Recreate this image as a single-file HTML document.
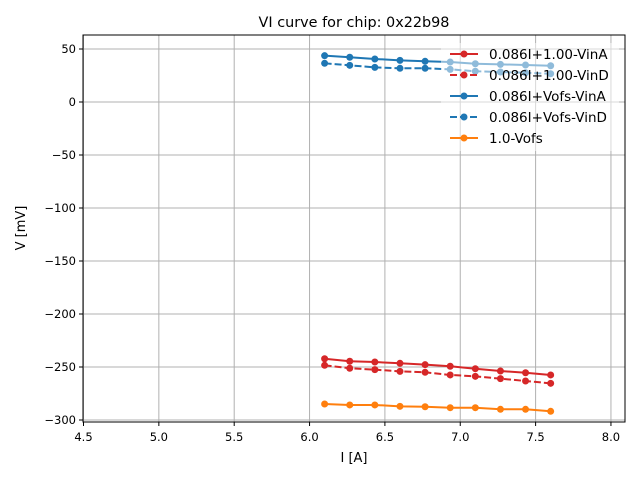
<!DOCTYPE html>
<html><head><meta charset="utf-8"><style>
body{margin:0;background:#fff}
svg{display:block;font-family:"DejaVu Sans","Liberation Sans",sans-serif}
</style></head><body>
<svg id="chart" width="640" height="480" xmlns="http://www.w3.org/2000/svg">
<rect width="640" height="480" fill="#fff"/>
<text x="354" y="27" text-anchor="middle" font-size="14.4">VI curve for chip: 0x22b98</text>
<g id="grid"></g><g id="ticks"></g><g id="series"></g>
<rect x="83" y="35" width="542" height="387" fill="none" stroke="#000" stroke-width="1"/>
<text x="354" y="462" text-anchor="middle" font-size="13">I [A]</text>
<text transform="translate(25,228) rotate(-90)" text-anchor="middle" font-size="13">V [mV]</text>
<g id="legend"></g>
</svg>
<script>
const currents=[6.1,6.2667,6.4333,6.6,6.7667,6.9333,7.1,7.2667,7.4333,7.6];
const redA=[-242.2,-244.6,-245.3,-246.5,-247.8,-249.3,-251.6,-253.8,-255.4,-257.5];
const redD=[-248.4,-251.2,-252.5,-254.1,-255,-257.5,-258.8,-261,-263.2,-265.4];
const blueA=[43.7,42.2,40.6,39.3,38.4,37.7,36.1,35.5,34.9,34.2];
const blueD=[36.5,34.6,32.7,31.8,31.8,30.8,29,28.3,27.6,26.7];
const orange=[-284.9,-285.8,-285.8,-287.1,-287.5,-288.4,-288.4,-289.9,-289.9,-291.8];
const xTicks=[4.5,5.0,5.5,6.0,6.5,7.0,7.5,8.0];
const yTicks=[50,0,-50,-100,-150,-200,-250,-300];
const seriesNames=["0.086I+1.00-VinA","0.086I+1.00-VinD","0.086I+Vofs-VinA","0.086I+Vofs-VinD","1.0-Vofs"];
const NS="http://www.w3.org/2000/svg";
const X=v=>83.5+(v-4.5)*150.7;
const Y=v=>102-v*1.06;
function mk(p,t,a){const e=document.createElementNS(NS,t);for(const k in a)e.setAttribute(k,a[k]);p.appendChild(e);return e;}
const g=document.getElementById('grid'),tk=document.getElementById('ticks'),sg=document.getElementById('series'),lg=document.getElementById('legend');
xTicks.forEach(v=>{const x=X(v);
 const l=mk(g,'line',{x1:x,x2:x,y1:35,y2:422,stroke:'#b0b0b0','stroke-width':1});
 
 
 mk(tk,'line',{x1:x,x2:x,y1:422,y2:426,stroke:'#000','stroke-width':1});
 const t=mk(tk,'text',{x:x,y:441,'text-anchor':'middle','font-size':11.5});t.textContent=v.toFixed(1);
 
 });
yTicks.forEach(v=>{const y=Y(v);
 const l=mk(g,'line',{x1:83,x2:625,y1:y,y2:y,stroke:'#b0b0b0','stroke-width':1});
 
 
 mk(tk,'line',{x1:79,x2:83,y1:y,y2:y,stroke:'#000','stroke-width':1});
 const t=mk(tk,'text',{x:76,y:y+4,'text-anchor':'end','font-size':11.5});t.textContent=(v<0?'\u2212'+(-v):v);
 
 });
const data=[redA,redD,blueA,blueD,orange];
const colors=['#d62728','#d62728','#1f77b4','#1f77b4','#ff7f0e'];
const dashed=[false,true,false,true,false];
data.forEach((arr,i)=>{
 const grp=mk(sg,'g',{});
 
 
 const pts=arr.map((v,j)=>X(currents[j])+','+Y(v)).join(' ');
 const a={points:pts,fill:'none',stroke:colors[i],'stroke-width':2};
 if(dashed[i])a['stroke-dasharray']='7,3';
 mk(grp,'polyline',a);
 arr.forEach((v,j)=>{const c=mk(grp,'circle',{cx:X(currents[j]),cy:Y(v),r:3.5,fill:colors[i]});
  
  });
});
const box=mk(lg,'rect',{x:441,y:43,width:178,height:108,rx:2,fill:'#fff','fill-opacity':0.5,stroke:'none'});


seriesNames.forEach((n,i)=>{const y=54+i*21;
 const e=mk(lg,'g',{});
 
 
 const a={x1:450,x2:478,y1:y,y2:y,stroke:colors[i],'stroke-width':2};
 if(dashed[i])a['stroke-dasharray']='7,3';
 mk(e,'line',a);mk(e,'circle',{cx:464,cy:y,r:3.5,fill:colors[i]});
 const t=mk(e,'text',{x:489,y:y+5,'font-size':13.5});t.textContent=n;});
</script>
</body></html>
